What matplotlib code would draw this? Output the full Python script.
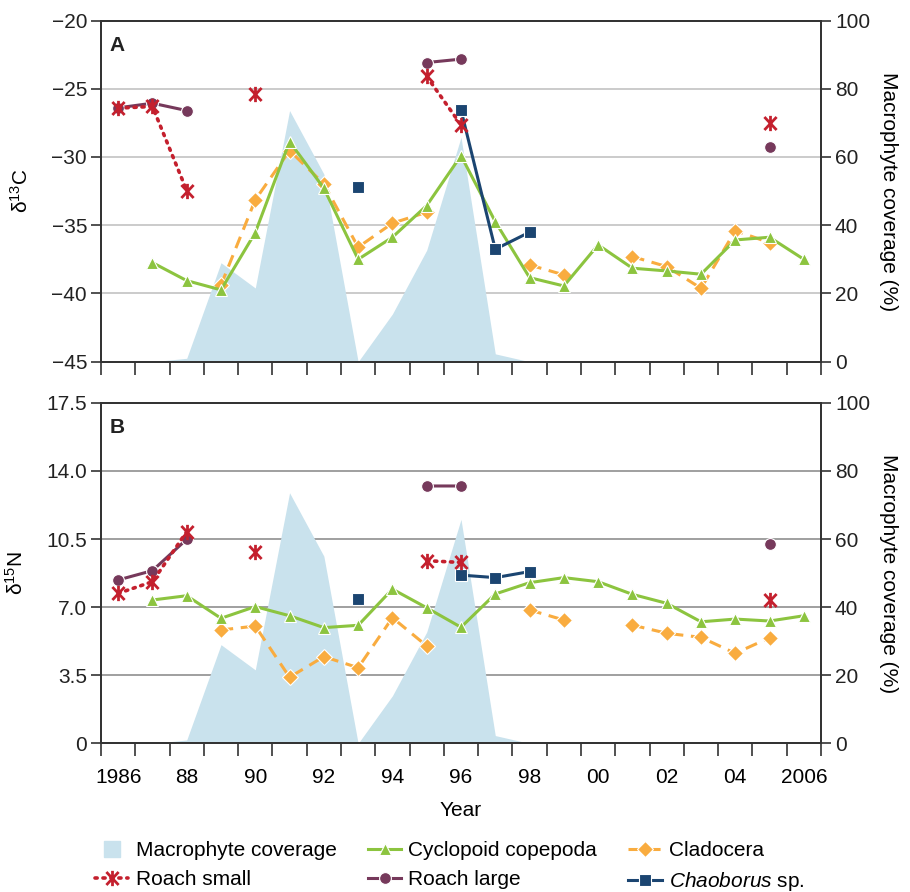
import numpy as np
import matplotlib
matplotlib.use("Agg")
import matplotlib.pyplot as plt
from matplotlib.path import Path
from matplotlib.lines import Line2D

plt.rcParams['font.family'] = ['Liberation Sans', 'DejaVu Sans']
plt.rcParams['mathtext.fontset'] = 'custom'
plt.rcParams['mathtext.rm'] = 'Liberation Sans'
plt.rcParams['mathtext.it'] = 'Liberation Sans:italic'
plt.rcParams['axes.unicode_minus'] = True

nan = np.nan
years = np.arange(1986, 2007)
year_labels = ["1986", "88", "90", "92", "94", "96", "98", "00", "02", "04", "2006"]
year_label_pos = [1986, 1988, 1990, 1992, 1994, 1996, 1998, 2000, 2002, 2004, 2006]

macrophyte = [0, 0, 1, 29, 21.6, 73.6, 55, 0, 14, 32.7, 65.8, 2.3, 0, 0, 0, 0, 0, 0, 0.3, 0, 0]

cyclo_c13 = [nan, -37.74, -39.06, -39.74, -35.54, -28.87, -32.29, -37.5, -35.88, -33.56, -29.9,
             -34.74, -38.84, -39.45, -36.44, -38.15, -38.35, -38.59, -36.08, -35.88, -37.5]
clado_c13 = [nan, nan, nan, -39.38, -33.14, -29.53, -31.97, -36.61, -34.85, -34.05, nan,
             nan, -37.91, -38.64, nan, -37.3, -38.03, -39.62, -35.4, -36.28, nan]
roach_small_c13 = [-26.42, -26.3, -32.46, nan, -25.4, nan, nan, nan, nan, -24.1, -27.65,
                   nan, nan, nan, nan, nan, nan, nan, nan, -27.5, nan]
roach_large_c13 = [-26.4, -26.06, -26.6, nan, nan, nan, nan, nan, nan, -23.08, -22.83,
                   nan, nan, nan, nan, nan, nan, nan, nan, -29.24, nan]
chaob_c13 = [nan, nan, nan, nan, nan, nan, nan, -32.17, nan, nan, -26.55,
             -36.76, -35.51, nan, nan, nan, nan, nan, nan, nan, nan]

cyclo_n15 = [nan, 7.37, 7.59, 6.43, 7.03, 6.56, 5.95, 6.07, 7.93, 6.97, 5.97,
             7.68, 8.26, 8.52, 8.31, 7.66, 7.20, 6.25, 6.39, 6.29, 6.56]
clado_n15 = [nan, nan, nan, 5.83, 6.03, 3.40, 4.46, 3.89, 6.46, 5.01, nan,
             nan, 6.86, 6.34, nan, 6.08, 5.66, 5.45, 4.63, 5.43, nan]
roach_small_n15 = [7.71, 8.31, 10.88, nan, 9.82, nan, nan, nan, nan, 9.39, 9.30,
                   nan, nan, nan, nan, nan, nan, nan, nan, 7.37, nan]
roach_large_n15 = [8.40, 8.88, 10.49, nan, nan, nan, nan, nan, nan, 13.23, 13.23,
                   nan, nan, nan, nan, nan, nan, nan, nan, 10.26, nan]
chaob_n15 = [nan, nan, nan, nan, nan, nan, nan, 7.44, nan, nan, 8.65,
             8.52, 8.83, nan, nan, nan, nan, nan, nan, nan, nan]

C_AREA = '#c9e2ed'
C_GREEN = '#8cc43f'
C_ORANGE = '#f9ac3f'
C_RED = '#c4202e'
C_PURPLE = '#76395b'
C_NAVY = '#1b4571'

star = Path([(0, -1), (0, 1), (-0.8, -0.85), (0.8, 0.85), (-0.8, 0.85), (0.8, -0.85)],
            [Path.MOVETO, Path.LINETO, Path.MOVETO, Path.LINETO, Path.MOVETO, Path.LINETO])

FS = 15
fig = plt.figure(figsize=(9.10, 8.92), dpi=100)
W, H = 910, 892


def make_panel(top_px, bot_px, left_data, ylim, yticks, yticklabels, ylabel, letter, gridc, show_xlabels):
    ax2 = fig.add_axes([101 / W, 1 - bot_px / H, 720 / W, (bot_px - top_px) / H])
    ax = ax2.twinx()
    ax2.yaxis.tick_right()
    ax2.yaxis.set_label_position('right')
    ax.yaxis.tick_left()
    ax.yaxis.set_label_position('left')
    ax2.set_zorder(1)
    ax.set_zorder(2)
    ax.patch.set_visible(False)

    ax2.fill_between(years, macrophyte, 0, color=C_AREA, lw=0, zorder=2)
    ax2.set_ylim(0, 100)
    ax2.set_yticks([0, 20, 40, 60, 80, 100])
    ax2.set_xlim(1985.5, 2006.5)
    for yv in [20, 40, 60, 80]:
        ax2.axhline(yv, color=gridc, lw=1.2, zorder=1)
    ax2.set_ylabel('Macrophyte coverage (%)', fontsize=FS, rotation=270, labelpad=20)
    ax2.tick_params(axis='y', direction='out', length=7, width=1.2, labelsize=FS, pad=3,
                    left=False, labelleft=False, right=True, labelright=True)

    cy, cl, rs, rl, ch = left_data
    lw = 2.2
    ms = 8.5
    ax.plot(years, cl, color=C_ORANGE, lw=lw, ls=(0, (4, 2.5)), marker='D', ms=ms * 0.9,
            mec='white', mew=0.8, zorder=3, label='Cladocera')
    ax.plot(years, cy, color=C_GREEN, lw=lw, marker='^', ms=ms, mec='white', mew=0.8,
            zorder=4, label='Cyclopoid copepoda')
    ax.plot(years, ch, color=C_NAVY, lw=lw, marker='s', ms=ms * 0.95, mec='white', mew=0.8,
            zorder=5, label=r'$\it{Chaoborus}$ sp.')
    ax.plot(years, rl, color=C_PURPLE, lw=lw, marker='o', ms=ms, mec='white', mew=0.8,
            zorder=6, label='Roach large')
    ax.plot(years, rs, color=C_RED, lw=2.6, ls=(0, (0.6, 1.6)), dash_capstyle='round',
            marker=star, ms=11, mec=C_RED, mfc='none', mew=2.0, zorder=7, label='Roach small')

    ax.set_ylim(*ylim)
    ax.set_yticks(yticks)
    ax.set_yticklabels(yticklabels)
    ax.set_xlim(1985.5, 2006.5)
    ax.tick_params(axis='y', direction='out', length=7, width=1.2, labelsize=FS, pad=3,
                   right=False, labelright=False, left=True, labelleft=True)
    ax.set_ylabel(ylabel, fontsize=FS, labelpad=14)

    bounds = np.arange(1985.5, 2007.0, 1.0)
    for a in (ax, ax2):
        a.set_xticks(bounds)
        a.set_xticklabels([])
        a.tick_params(axis='x', direction='out', length=9, width=1.2, labelsize=FS)
        for s in a.spines.values():
            s.set_linewidth(1.3)
            s.set_color('#333333')
    ax.tick_params(axis='x', bottom=False)
    ax2.tick_params(axis='both', colors='#333333', labelcolor='#222222')
    ax.tick_params(axis='both', colors='#333333', labelcolor='#222222')
    if show_xlabels:
        ax2.set_xticks(year_label_pos, minor=True)
        ax2.set_xticklabels(year_labels, minor=True)
        ax2.tick_params(axis='x', which='minor', length=0, pad=18, labelsize=FS)
        ax2.set_xlabel('Year', fontsize=FS, labelpad=10)
    ax.text(0.012, 0.955, letter, transform=ax.transAxes, fontsize=FS, fontweight='bold',
            va='top', ha='left', color='#222222')
    return ax, ax2


axA, axA2 = make_panel(20.5, 361.7, (cyclo_c13, clado_c13, roach_small_c13, roach_large_c13, chaob_c13),
                       (-45, -20), [-45, -40, -35, -30, -25, -20],
                       ['−45', '−40', '−35', '−30', '−25', '−20'],
                       r'δ$^{13}$C', 'A', '#c2c2c2', False)
axB, axB2 = make_panel(402.9, 743.4, (cyclo_n15, clado_n15, roach_small_n15, roach_large_n15, chaob_n15),
                       (0, 17.5), [0, 3.5, 7.0, 10.5, 14.0, 17.5],
                       ['0', '3.5', '7.0', '10.5', '14.0', '17.5'],
                       r'δ$^{15}$N', 'B', '#8f8f8f', True)

h = {l.get_label(): l for l in axA.get_lines()}
macro_handle = Line2D([], [], marker='s', color=C_AREA, ls='None', ms=12)
handles = [macro_handle, h['Roach small'], h['Cyclopoid copepoda'], h['Roach large'],
           h['Cladocera'], h[r'$\it{Chaoborus}$ sp.']]
labels = ['Macrophyte coverage', 'Roach small', 'Cyclopoid copepoda', 'Roach large',
          'Cladocera', r'$\it{Chaoborus}$ sp.']
fig.legend(handles, labels, ncol=3, loc='center', bbox_to_anchor=(450 / W, 1 - 867 / H),
           frameon=False, fontsize=FS, handlelength=1.6, handletextpad=0.35,
           columnspacing=1.5, labelspacing=0.5)

fig.savefig('out.png', dpi=100)
